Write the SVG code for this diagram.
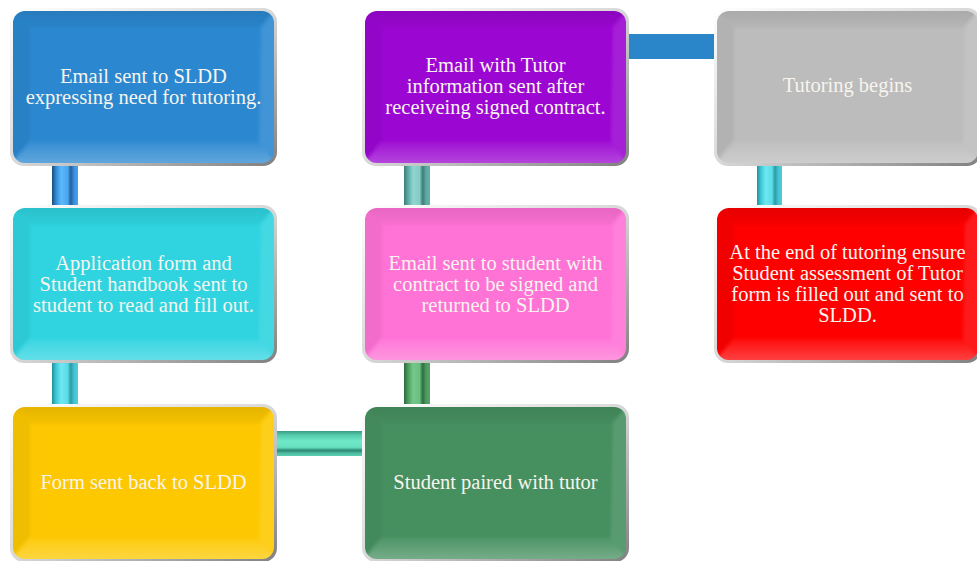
<svg xmlns="http://www.w3.org/2000/svg" width="977" height="561" viewBox="0 0 977 561">
  <style>
    .lbl { font-family: "Liberation Serif", "DejaVu Serif", serif; font-size: 20.5px; fill: #f7f4ee; text-anchor: middle; }
  </style>
  <defs>
    <!-- silver rim around each tile -->
    <linearGradient id="rim" x1="0" y1="0" x2="1" y2="1">
      <stop offset="0" stop-color="#ffffff"/>
      <stop offset="0.5" stop-color="#d8d8d8"/>
      <stop offset="1" stop-color="#808080"/>
    </linearGradient>
    <linearGradient id="lowGlow" x1="0" y1="0" x2="0" y2="1">
      <stop offset="0" stop-color="#fff" stop-opacity="0.05"/>
      <stop offset="1" stop-color="#fff" stop-opacity="0.32"/>
    </linearGradient>
    <linearGradient id="topShade" x1="0" y1="0" x2="0" y2="1">
      <stop offset="0" stop-color="#000" stop-opacity="0.12"/>
      <stop offset="1" stop-color="#000" stop-opacity="0.03"/>
    </linearGradient>
    <filter id="soft" x="-5%" y="-5%" width="110%" height="110%">
      <feGaussianBlur stdDeviation="1.6"/>
    </filter>
    <clipPath id="face">
      <rect x="3" y="3" width="261" height="152" rx="12"/>
    </clipPath>
    <!-- bevelled inner frame, shared by all tiles -->
    <g id="bevel" clip-path="url(#face)">
      <g filter="url(#soft)">
        <polygon points="-4,-4 271,-4 251,20 20,20" fill="url(#topShade)"/>
        <polygon points="-4,162 271,162 249,134 20,134" fill="url(#lowGlow)"/>
        <polygon points="-4,-4 20,20 20,134 -4,162" fill="#000" fill-opacity="0.05"/>
        <polygon points="271,-4 251,20 249,134 271,162" fill="#fff" fill-opacity="0.10"/>
      </g>
    </g>
    <!-- striped pipes -->
    <linearGradient id="pBlue" x1="0" y1="0" x2="1" y2="0">
      <stop offset="0" stop-color="#1a4a78"/>
      <stop offset="0.15" stop-color="#2f86d0"/>
      <stop offset="0.35" stop-color="#5cb8ff"/>
      <stop offset="0.6" stop-color="#4aa8f0"/>
      <stop offset="0.72" stop-color="#2260a0"/>
      <stop offset="0.85" stop-color="#3a90dc"/>
      <stop offset="1" stop-color="#4aa0ea"/>
    </linearGradient>
    <linearGradient id="pCyan" x1="0" y1="0" x2="1" y2="0">
      <stop offset="0" stop-color="#1f8f9a"/>
      <stop offset="0.15" stop-color="#3cc6d4"/>
      <stop offset="0.35" stop-color="#6ee8f2"/>
      <stop offset="0.6" stop-color="#5adbe6"/>
      <stop offset="0.72" stop-color="#2a9aa6"/>
      <stop offset="0.85" stop-color="#44c4d0"/>
      <stop offset="1" stop-color="#50ccd8"/>
    </linearGradient>
    <linearGradient id="pTeal" x1="0" y1="0" x2="1" y2="0">
      <stop offset="0" stop-color="#3f7c78"/>
      <stop offset="0.15" stop-color="#5aa8a2"/>
      <stop offset="0.35" stop-color="#8fd6d0"/>
      <stop offset="0.6" stop-color="#86ccc6"/>
      <stop offset="0.72" stop-color="#3f7c78"/>
      <stop offset="0.85" stop-color="#5ea8a2"/>
      <stop offset="1" stop-color="#66b0aa"/>
    </linearGradient>
    <linearGradient id="pGreen" x1="0" y1="0" x2="1" y2="0">
      <stop offset="0" stop-color="#2c6a3c"/>
      <stop offset="0.15" stop-color="#4a9a5e"/>
      <stop offset="0.35" stop-color="#74c88a"/>
      <stop offset="0.6" stop-color="#6ac080"/>
      <stop offset="0.72" stop-color="#2e6e40"/>
      <stop offset="0.85" stop-color="#4c9a60"/>
      <stop offset="1" stop-color="#54a268"/>
    </linearGradient>
    <linearGradient id="pMint" x1="0" y1="0" x2="0" y2="1">
      <stop offset="0" stop-color="#3a9a86"/>
      <stop offset="0.15" stop-color="#52c8a8"/>
      <stop offset="0.4" stop-color="#70e8c8"/>
      <stop offset="0.65" stop-color="#66e0c0"/>
      <stop offset="0.78" stop-color="#2e8a76"/>
      <stop offset="0.9" stop-color="#50c0a4"/>
      <stop offset="1" stop-color="#5accb0"/>
    </linearGradient>
  </defs>

  <!-- connectors -->
  <g id="connectors">
    <rect x="52" y="163" width="26" height="44" fill="url(#pBlue)"/>
    <rect x="52" y="361" width="26" height="45" fill="url(#pCyan)"/>
    <rect x="275" y="431" width="89" height="25" fill="url(#pMint)"/>
    <rect x="404" y="361" width="26" height="45" fill="url(#pGreen)"/>
    <rect x="404" y="163" width="26" height="44" fill="url(#pTeal)"/>
    <rect x="627" y="34" width="89" height="25" fill="#2a86c8"/>
    <rect x="757" y="163" width="25" height="44" fill="url(#pCyan)"/>
  </g>

  <!-- tiles -->
  <g id="n1" transform="translate(10,8)">
    <rect width="267" height="158" rx="14" fill="url(#rim)"/>
    <rect x="3" y="3" width="261" height="152" rx="12" fill="#2b88d0"/>
    <use href="#bevel"/>
    <text class="lbl" x="133.5" y="75">Email sent to SLDD</text>
    <text class="lbl" x="133.5" y="96">expressing need for tutoring.</text>
  </g>

  <g id="n2" transform="translate(10,205)">
    <rect width="267" height="158" rx="14" fill="url(#rim)"/>
    <rect x="3" y="3" width="261" height="152" rx="12" fill="#2fd4e0"/>
    <use href="#bevel"/>
    <text class="lbl" x="133.5" y="65">Application form and</text>
    <text class="lbl" x="133.5" y="86">Student handbook sent to</text>
    <text class="lbl" x="133.5" y="107">student to read and fill out.</text>
  </g>

  <g id="n3" transform="translate(10,404)">
    <rect width="267" height="158" rx="14" fill="url(#rim)"/>
    <rect x="3" y="3" width="261" height="152" rx="12" fill="#fdc800"/>
    <use href="#bevel"/>
    <text class="lbl" x="133.5" y="85">Form sent back to SLDD</text>
  </g>

  <g id="n4" transform="translate(362,404)">
    <rect width="267" height="158" rx="14" fill="url(#rim)"/>
    <rect x="3" y="3" width="261" height="152" rx="12" fill="#469060"/>
    <use href="#bevel"/>
    <text class="lbl" x="133.5" y="85">Student paired with tutor</text>
  </g>

  <g id="n5" transform="translate(362,205)">
    <rect width="267" height="158" rx="14" fill="url(#rim)"/>
    <rect x="3" y="3" width="261" height="152" rx="12" fill="#ff72d6"/>
    <use href="#bevel"/>
    <text class="lbl" x="133.5" y="65">Email sent to student with</text>
    <text class="lbl" x="133.5" y="86">contract to be signed and</text>
    <text class="lbl" x="133.5" y="107">returned to SLDD</text>
  </g>

  <g id="n6" transform="translate(362,8)">
    <rect width="267" height="158" rx="14" fill="url(#rim)"/>
    <rect x="3" y="3" width="261" height="152" rx="12" fill="#9b06d2"/>
    <use href="#bevel"/>
    <text class="lbl" x="133.5" y="64">Email with Tutor</text>
    <text class="lbl" x="133.5" y="85">information sent after</text>
    <text class="lbl" x="133.5" y="106">receiveing signed contract.</text>
  </g>

  <g id="n7" transform="translate(714,8)">
    <rect width="267" height="158" rx="14" fill="url(#rim)"/>
    <rect x="3" y="3" width="261" height="152" rx="12" fill="#bcbcbc"/>
    <use href="#bevel"/>
    <text class="lbl" x="133.5" y="84">Tutoring begins</text>
  </g>

  <g id="n8" transform="translate(714,205)">
    <rect width="267" height="158" rx="14" fill="url(#rim)"/>
    <rect x="3" y="3" width="261" height="152" rx="12" fill="#fe0000"/>
    <use href="#bevel"/>
    <text class="lbl" x="133.5" y="54">At the end of tutoring ensure</text>
    <text class="lbl" x="133.5" y="75">Student assessment of Tutor</text>
    <text class="lbl" x="133.5" y="96">form is filled out and sent to</text>
    <text class="lbl" x="133.5" y="117">SLDD.</text>
  </g>
</svg>
